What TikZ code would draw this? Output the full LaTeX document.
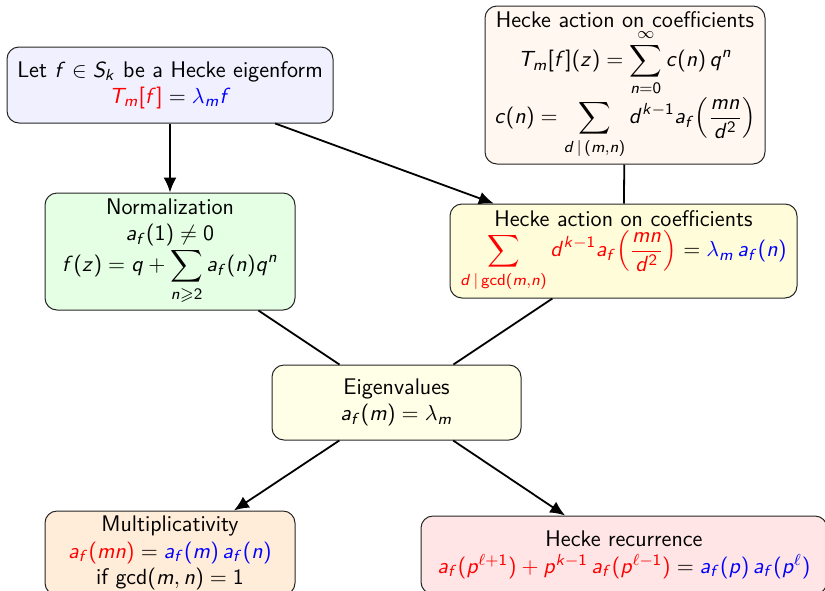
\documentclass[tikz,border=0pt]{standalone}
\usepackage{amsmath,amssymb}
\usetikzlibrary{arrows.meta}
\DeclareSymbolFont{sfletters}{OT1}{cmss}{m}{sl}
\SetSymbolFont{operators}{normal}{OT1}{cmss}{m}{n}
\makeatletter
\@tfor\x:=abcdefghijklmnopqrstuvwxyzABCDEFGHIJKLMNOPQRSTUVWXYZ\do{%
  \edef\y{\noexpand\DeclareMathSymbol{\x}{\noexpand\mathalpha}{sfletters}{`\x}}\y}
\makeatother
\newcommand\boxfont{\fontsize{11.3}{13.2}\selectfont\sffamily
  \thickmuskip=5mu\relax\medmuskip=4mu\relax}
\begin{document}
\begin{tikzpicture}[x=0.5pt,y=-0.5pt,
  box/.style={draw=black!85, line width=0.5pt, rounded corners=6pt, align=center,
    font=\boxfont, inner xsep=3pt, inner ysep=2pt},
  link/.style={line width=0.9pt},
  arr/.style={line width=0.9pt,-{Latex[length=7.5pt,width=6.5pt]}}]
\useasboundingbox (0,0) rectangle (825,590);
\node[box, fill=blue!6, text width=157pt, minimum height=38pt] (eig) at (170,85)
  {Let $f \in S_k$ be a Hecke eigenform\\ ${\color{red}T_m[f]} = {\color{blue}\lambda_m f}$};
\node[box, fill=orange!6, text width=134pt, minimum height=79pt] (act) at (625,85)
  {Hecke action on coefficients\\
   $\displaystyle T_m[f](z) = \sum_{n=0}^{\infty} c(n)\,q^n$\\
   $\displaystyle c(n) = \sum_{d\,|\,(m,n)} d^{k-1} a_f\Big(\frac{mn}{d^2}\Big)$};
\node[box, fill=green!10, text width=119pt, minimum height=58.5pt] (norm) at (170,251.5)
  {Normalization\\ $a_f(1)\neq 0$\\ $\displaystyle f(z) = q + \sum_{n\geqslant 2} a_f(n) q^n$};
\node[box, fill=yellow!15, text width=167.5pt, minimum height=47pt] (coef) at (623.5,251)
  {Hecke action on coefficients\\[2pt]
   $\displaystyle {\color{red}\sum_{d\,|\gcd(m,n)} d^{k-1} a_f\Big(\frac{mn}{d^2}\Big)} = {\color{blue}\lambda_m\, a_f(n)}$};
\node[box, fill=yellow!10, text width=118.5pt, minimum height=37.5pt] (ev) at (396.5,402.5)
  {Eigenvalues\\ $a_f(m) = \lambda_m$};
\node[box, fill=orange!15, text width=119pt, minimum height=42pt] (mult) at (170,553)
  {Multiplicativity\\ ${\color{red}a_f(mn)} = {\color{blue}a_f(m)\,a_f(n)}$\\ if $\gcd(m,n) = 1$};
\node[box, fill=red!10, text width=197pt, minimum height=39pt] (rec) at (624,555)
  {Hecke recurrence\\ ${\color{red}a_f(p^{\ell+1}) + p^{k-1}\,a_f(p^{\ell-1})} = {\color{blue}a_f(p)\,a_f(p^{\ell})}$};
\draw[arr] (eig) -- (norm);
\draw[arr] (eig) -- (coef);
\draw[link] (act) -- (coef);
\draw[link] (norm) -- (ev);
\draw[link] (coef) -- (ev);
\draw[arr] (ev) -- (mult);
\draw[arr] (ev) -- (rec);
\end{tikzpicture}
\end{document}
